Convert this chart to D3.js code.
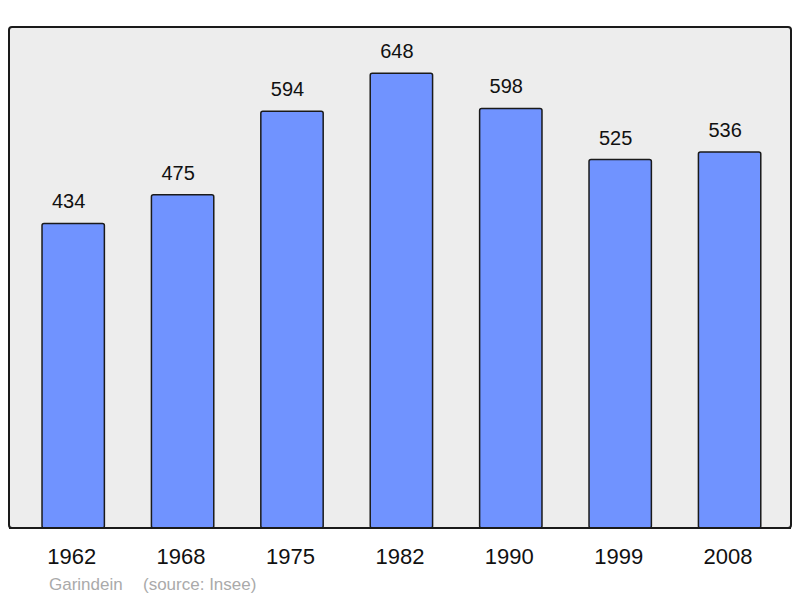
<!DOCTYPE html>
<html><head><meta charset="utf-8">
<script src="https://cdn.jsdelivr.net/npm/d3@7/dist/d3.min.js"></script>
<style>body{margin:0;background:#fff}svg{display:block}text{font-family:"Liberation Sans",Arial,sans-serif}</style>
</head><body>
<svg id="c" width="800" height="598"></svg>
<script>
const years = ["1962","1968","1975","1982","1990","1999","2008"];
const population = [434,475,594,648,598,525,536];
const author = "Garindein";
const source = "(source: Insee)";

const svg = d3.select("#c");
const x = d3.scaleBand().domain(years).range([18.5,784.3]).paddingInner(0.43).paddingOuter(0.215);
const y = d3.scaleLinear().domain([0,714]).range([528,27]);

svg.append("rect").attr("x",9).attr("y",27).attr("width",782).attr("height",501)
  .attr("rx",3).attr("fill","#ededed").attr("stroke","#1a1a1a").attr("stroke-width",2);

svg.selectAll("rect.bar").data(population).enter().append("rect").attr("class","bar")
  .attr("x",(d,i)=>x(years[i])).attr("y",d=>y(d))
  .attr("width",x.bandwidth()).attr("height",d=>y(0)-y(d))
  .attr("rx",2).attr("fill","#7093ff").attr("stroke","#1a1a1a").attr("stroke-width",1.5);

svg.append("line").attr("x1",9).attr("x2",791).attr("y1",528).attr("y2",528).attr("stroke","#1a1a1a").attr("stroke-width",2);

svg.selectAll("text.val").data(population).enter().append("text").attr("class","val")
  .attr("x",(d,i)=>x(years[i])+x.bandwidth()/2-4.5).attr("y",d=>y(d)-15)
  .attr("text-anchor","middle").attr("font-size",20).attr("fill","#111").text(d=>d);

svg.selectAll("text.yr").data(years).enter().append("text").attr("class","yr")
  .attr("x",d=>x(d)+x.bandwidth()/2-1.5).attr("y",564)
  .attr("text-anchor","middle").attr("font-size",22).attr("fill","#111").text(d=>d);

svg.append("text").attr("x",49).attr("y",590).attr("font-size",17).attr("fill","#aaa").text(author);
svg.append("text").attr("x",143).attr("y",590).attr("font-size",17).attr("fill","#aaa").text(source);
</script>
</body></html>
